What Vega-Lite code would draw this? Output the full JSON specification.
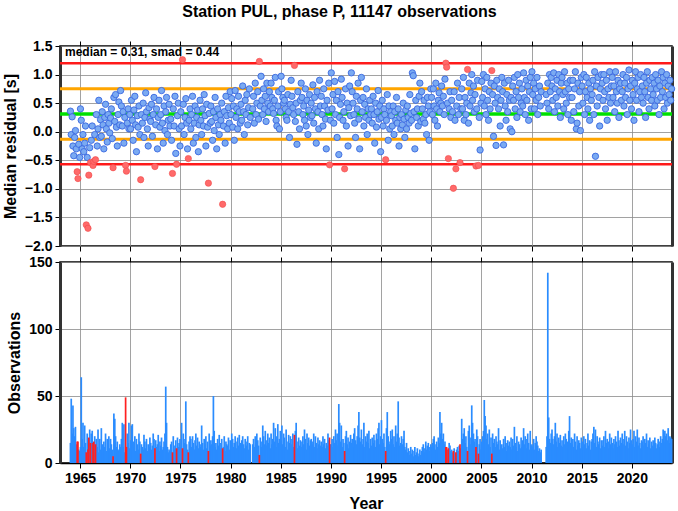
{
"$schema": "https://vega.github.io/schema/vega-lite/v6.json",
"padding": {"left": 1, "top": 4, "right": 4, "bottom": 0},
"title": {"text": "Station PUL, phase P, 11147 observations", "font": "Liberation Sans", "fontSize": 16, "fontWeight": "bold", "color": "#000", "anchor": "middle", "offset": 18},
"config": {
 "view": {"stroke": "#000", "strokeWidth": 1.5},
 "font": "Liberation Sans",
 "axis": {"labelFont": "Liberation Sans", "labelFontWeight": "bold", "labelFontSize": 14, "labelColor": "#000", "titleFont": "Liberation Sans", "titleFontWeight": "bold", "titleFontSize": 16, "titleColor": "#000", "tickColor": "#000", "tickSize": 5, "tickWidth": 1, "labelPadding": 3, "domainColor": "#000", "domainWidth": 1.5, "gridColor": "#8a8a8a", "gridWidth": 0.8}
},
"datasets": {"obs": [
{"t":1964.04,"r":0.36,"n":15},{"t":1964.12,"r":-0.05,"n":48},{"t":1964.21,"r":0.26,"n":22},{"t":1964.29,"r":-0.25,"n":43},{"t":1964.37,"r":-0.42,"n":26},{"t":1964.46,"r":-0.1,"n":20},{"t":1964.54,"r":0.02,"n":27},{"t":1964.62,"r":-0.3,"n":14},{"t":1964.71,"r":-0.7,"n":16,"f":1},{"t":1964.79,"r":-0.82,"n":16,"f":1},{"t":1964.87,"r":-0.22,"n":10},{"t":1964.96,"r":-0.45,"n":9},
{"t":1965.04,"r":0.4,"n":12},{"t":1965.12,"r":0.2,"n":64},{"t":1965.21,"r":-0.3,"n":18},{"t":1965.29,"r":-0.05,"n":30},{"t":1965.37,"r":-0.35,"n":12},{"t":1965.46,"r":-0.2,"n":28},{"t":1965.54,"r":0.1,"n":15},{"t":1965.62,"r":-1.63,"n":8,"f":1},{"t":1965.71,"r":-0.45,"n":22},{"t":1965.79,"r":-1.69,"n":10,"f":1},{"t":1965.87,"r":-0.76,"n":19,"f":1},{"t":1965.96,"r":-0.28,"n":25},
{"t":1966.04,"r":-0.54,"n":15,"f":1},{"t":1966.12,"r":-0.15,"n":22},{"t":1966.21,"r":0.1,"n":24},{"t":1966.29,"r":-0.59,"n":15,"f":1},{"t":1966.37,"r":-0.52,"n":16,"f":1},{"t":1966.46,"r":-0.05,"n":20},{"t":1966.54,"r":-0.49,"n":14,"f":1},{"t":1966.62,"r":0.3,"n":18},{"t":1966.71,"r":-0.25,"n":12},{"t":1966.79,"r":0.05,"n":25},{"t":1966.87,"r":0.55,"n":8},{"t":1966.96,"r":-0.1,"n":18},
{"t":1967.04,"r":0.21,"n":10},{"t":1967.12,"r":-0.08,"n":26},{"t":1967.21,"r":0.35,"n":14},{"t":1967.29,"r":0.12,"n":8},{"t":1967.37,"r":-0.3,"n":16},{"t":1967.46,"r":0.25,"n":12},{"t":1967.54,"r":0.48,"n":22},{"t":1967.62,"r":0.05,"n":9},{"t":1967.71,"r":-0.18,"n":18},{"t":1967.79,"r":0.3,"n":15},{"t":1967.87,"r":0.15,"n":20},{"t":1967.96,"r":-0.02,"n":11},
{"t":1968.04,"r":0.24,"n":18},{"t":1968.12,"r":0.4,"n":14},{"t":1968.21,"r":-0.12,"n":10},{"t":1968.29,"r":-0.63,"n":5,"f":1},{"t":1968.37,"r":0.6,"n":37},{"t":1968.46,"r":0.18,"n":33},{"t":1968.54,"r":0.65,"n":20},{"t":1968.62,"r":0.08,"n":12},{"t":1968.71,"r":-0.25,"n":16},{"t":1968.79,"r":0.3,"n":10},{"t":1968.87,"r":0.52,"n":9},{"t":1968.96,"r":0.12,"n":14},
{"t":1969.04,"r":0.72,"n":12},{"t":1969.12,"r":0.45,"n":18},{"t":1969.21,"r":0.1,"n":30},{"t":1969.29,"r":0.35,"n":12},{"t":1969.37,"r":-0.2,"n":29},{"t":1969.46,"r":0.25,"n":8},{"t":1969.54,"r":-0.59,"n":49,"f":1},{"t":1969.62,"r":-0.69,"n":12,"f":1},{"t":1969.71,"r":0.15,"n":22},{"t":1969.79,"r":0.4,"n":15},{"t":1969.87,"r":0.05,"n":30},{"t":1969.96,"r":0.3,"n":11},
{"t":1970.04,"r":0.05,"n":17},{"t":1970.12,"r":0.55,"n":28},{"t":1970.21,"r":0.2,"n":29},{"t":1970.29,"r":-0.15,"n":16},{"t":1970.37,"r":0.38,"n":12},{"t":1970.46,"r":0.62,"n":20},{"t":1970.54,"r":0.12,"n":9},{"t":1970.62,"r":-0.35,"n":18},{"t":1970.71,"r":0.28,"n":14},{"t":1970.79,"r":0.08,"n":10},{"t":1970.87,"r":0.45,"n":22},{"t":1970.96,"r":-0.05,"n":16},
{"t":1971.04,"r":-0.84,"n":7,"f":1},{"t":1971.12,"r":0.3,"n":14},{"t":1971.21,"r":0.15,"n":12},{"t":1971.29,"r":0.5,"n":10},{"t":1971.37,"r":-0.1,"n":21},{"t":1971.46,"r":0.25,"n":16},{"t":1971.54,"r":0.68,"n":11},{"t":1971.62,"r":0.35,"n":18},{"t":1971.71,"r":0.05,"n":9},{"t":1971.79,"r":-0.25,"n":14},{"t":1971.87,"r":0.42,"n":12},{"t":1971.96,"r":0.22,"n":19},
{"t":1972.04,"r":0.18,"n":15},{"t":1972.12,"r":0.48,"n":10},{"t":1972.21,"r":-0.08,"n":13},{"t":1972.29,"r":0.3,"n":22},{"t":1972.37,"r":0.6,"n":18},{"t":1972.46,"r":-0.61,"n":11,"f":1},{"t":1972.54,"r":0.12,"n":17},{"t":1972.62,"r":0.4,"n":12},{"t":1972.71,"r":-0.3,"n":14},{"t":1972.79,"r":0.25,"n":21},{"t":1972.87,"r":0.55,"n":9},{"t":1972.96,"r":0.08,"n":16},
{"t":1973.04,"r":0.3,"n":13},{"t":1973.12,"r":0.72,"n":19},{"t":1973.21,"r":0.15,"n":10},{"t":1973.29,"r":-0.2,"n":12},{"t":1973.37,"r":0.45,"n":16},{"t":1973.46,"r":0.02,"n":22},{"t":1973.54,"r":0.35,"n":57},{"t":1973.62,"r":0.6,"n":30},{"t":1973.71,"r":-0.05,"n":12},{"t":1973.79,"r":0.2,"n":8},{"t":1973.87,"r":0.48,"n":10},{"t":1973.96,"r":0.1,"n":9},
{"t":1974.04,"r":0.22,"n":14},{"t":1974.12,"r":-0.15,"n":16},{"t":1974.21,"r":-0.73,"n":8,"f":1},{"t":1974.29,"r":0.4,"n":20},{"t":1974.37,"r":0.1,"n":13},{"t":1974.46,"r":0.62,"n":10},{"t":1974.54,"r":-0.38,"n":17},{"t":1974.62,"r":-0.57,"n":11,"f":1},{"t":1974.71,"r":0.28,"n":19},{"t":1974.79,"r":0.5,"n":12},{"t":1974.87,"r":0.05,"n":15},{"t":1974.96,"r":-0.25,"n":18},
{"t":1975.04,"r":0.35,"n":12},{"t":1975.12,"r":0.1,"n":30},{"t":1975.21,"r":1.26,"n":11,"f":1},{"t":1975.29,"r":0.48,"n":22},{"t":1975.37,"r":-0.05,"n":15},{"t":1975.46,"r":0.25,"n":18},{"t":1975.54,"r":0.58,"n":46},{"t":1975.62,"r":0.15,"n":14},{"t":1975.71,"r":-0.3,"n":10},{"t":1975.79,"r":-0.47,"n":8,"f":1},{"t":1975.87,"r":0.2,"n":16},{"t":1975.96,"r":0.4,"n":20},
{"t":1976.04,"r":0.05,"n":18},{"t":1976.12,"r":0.3,"n":12},{"t":1976.21,"r":0.62,"n":20},{"t":1976.29,"r":-0.2,"n":15},{"t":1976.37,"r":0.15,"n":10},{"t":1976.46,"r":0.45,"n":17},{"t":1976.54,"r":-0.1,"n":22},{"t":1976.62,"r":0.25,"n":13},{"t":1976.71,"r":0.38,"n":19},{"t":1976.79,"r":-0.35,"n":11},{"t":1976.87,"r":0.12,"n":16},{"t":1976.96,"r":0.55,"n":14},
{"t":1977.04,"r":0.2,"n":12},{"t":1977.12,"r":-0.05,"n":28},{"t":1977.21,"r":0.4,"n":15},{"t":1977.29,"r":0.1,"n":10},{"t":1977.37,"r":0.65,"n":18},{"t":1977.46,"r":0.28,"n":14},{"t":1977.54,"r":-0.25,"n":20},{"t":1977.62,"r":0.48,"n":11},{"t":1977.71,"r":0.08,"n":16},{"t":1977.79,"r":-0.9,"n":9,"f":1},{"t":1977.87,"r":0.32,"n":22},{"t":1977.96,"r":0.15,"n":13},
{"t":1978.04,"r":0.45,"n":17},{"t":1978.12,"r":0.18,"n":14},{"t":1978.21,"r":-0.15,"n":20},{"t":1978.29,"r":0.35,"n":50},{"t":1978.37,"r":0.02,"n":24},{"t":1978.46,"r":0.6,"n":12},{"t":1978.54,"r":0.25,"n":15},{"t":1978.62,"r":-0.3,"n":10},{"t":1978.71,"r":0.4,"n":18},{"t":1978.79,"r":0.12,"n":13},{"t":1978.87,"r":-0.05,"n":21},{"t":1978.96,"r":0.3,"n":11},
{"t":1979.04,"r":0.2,"n":15},{"t":1979.12,"r":0.5,"n":18},{"t":1979.21,"r":-1.27,"n":11,"f":1},{"t":1979.29,"r":0.1,"n":12},{"t":1979.37,"r":0.35,"n":20},{"t":1979.46,"r":-0.2,"n":9},{"t":1979.54,"r":0.62,"n":16},{"t":1979.62,"r":0.28,"n":14},{"t":1979.71,"r":0.05,"n":13},{"t":1979.79,"r":0.42,"n":19},{"t":1979.87,"r":0.15,"n":10},{"t":1979.96,"r":0.7,"n":17},
{"t":1980.04,"r":0.3,"n":14},{"t":1980.12,"r":0.58,"n":22},{"t":1980.21,"r":0.08,"n":18},{"t":1980.29,"r":0.45,"n":12},{"t":1980.37,"r":-0.15,"n":15},{"t":1980.46,"r":0.72,"n":20},{"t":1980.54,"r":0.25,"n":16},{"t":1980.62,"r":0.4,"n":11},{"t":1980.71,"r":0.05,"n":19},{"t":1980.79,"r":0.62,"n":13},{"t":1980.87,"r":0.35,"n":21},{"t":1980.96,"r":0.15,"n":15},
{"t":1981.04,"r":0.48,"n":12},{"t":1981.12,"r":0.2,"n":17},{"t":1981.21,"r":0.8,"n":20},{"t":1981.29,"r":0.35,"n":14},{"t":1981.37,"r":-0.05,"n":11},{"t":1981.46,"r":0.55,"n":18},{"t":1981.54,"r":0.3,"n":16},{"t":1981.62,"r":0.65,"n":13},{"t":1981.71,"r":0.12,"n":20},{"t":1981.79,"r":0.42,"n":10},{"t":1981.87,"r":0.75,"n":15},{"t":1981.96,"r":0.25,"n":14},
{"t":1982.21,"r":0.4,"n":14},{"t":1982.29,"r":0.62,"n":18},{"t":1982.37,"r":0.15,"n":12},{"t":1982.46,"r":0.85,"n":20},{"t":1982.54,"r":0.3,"n":15},{"t":1982.62,"r":0.5,"n":22},{"t":1982.71,"r":0.7,"n":17},{"t":1982.79,"r":0.22,"n":13},{"t":1982.87,"r":1.23,"n":6,"f":1},{"t":1982.96,"r":0.45,"n":19},
{"t":1983.04,"r":0.97,"n":16},{"t":1983.12,"r":0.55,"n":12},{"t":1983.21,"r":0.3,"n":28},{"t":1983.29,"r":0.75,"n":20},{"t":1983.37,"r":0.4,"n":14},{"t":1983.46,"r":0.62,"n":24},{"t":1983.54,"r":0.18,"n":17},{"t":1983.62,"r":0.85,"n":13},{"t":1983.71,"r":0.5,"n":22},{"t":1983.79,"r":0.35,"n":15},{"t":1983.87,"r":0.7,"n":19},{"t":1983.96,"r":0.45,"n":11},
{"t":1984.04,"r":0.85,"n":22},{"t":1984.12,"r":0.6,"n":14},{"t":1984.21,"r":0.4,"n":18},{"t":1984.29,"r":0.32,"n":30},{"t":1984.37,"r":0.55,"n":16},{"t":1984.46,"r":0.95,"n":26},{"t":1984.54,"r":0.2,"n":12},{"t":1984.62,"r":0.1,"n":20},{"t":1984.71,"r":0.45,"n":29},{"t":1984.79,"r":0.7,"n":15},{"t":1984.87,"r":0.05,"n":18},{"t":1984.96,"r":0.35,"n":24},
{"t":1985.04,"r":0.97,"n":17},{"t":1985.12,"r":0.75,"n":28},{"t":1985.21,"r":0.6,"n":14},{"t":1985.29,"r":0.5,"n":22},{"t":1985.37,"r":0.55,"n":19},{"t":1985.46,"r":0.4,"n":12},{"t":1985.54,"r":0.25,"n":25},{"t":1985.62,"r":0.2,"n":16},{"t":1985.71,"r":0.65,"n":10},{"t":1985.79,"r":0.35,"n":21},{"t":1985.87,"r":-0.1,"n":15},{"t":1985.96,"r":0.48,"n":20},
{"t":1986.04,"r":0.9,"n":14},{"t":1986.12,"r":0.62,"n":18},{"t":1986.21,"r":0.42,"n":22},{"t":1986.29,"r":0.3,"n":12},{"t":1986.37,"r":1.16,"n":21,"f":1},{"t":1986.46,"r":0.18,"n":24},{"t":1986.54,"r":0.5,"n":30},{"t":1986.62,"r":-0.22,"n":16},{"t":1986.71,"r":0.7,"n":11},{"t":1986.79,"r":0.35,"n":19},{"t":1986.87,"r":0.05,"n":13},{"t":1986.96,"r":0.55,"n":17},
{"t":1987.04,"r":0.85,"n":12},{"t":1987.12,"r":0.6,"n":16},{"t":1987.21,"r":0.3,"n":20},{"t":1987.29,"r":0.45,"n":14},{"t":1987.37,"r":0.2,"n":25},{"t":1987.46,"r":0.75,"n":18},{"t":1987.54,"r":0.1,"n":10},{"t":1987.62,"r":0.55,"n":22},{"t":1987.71,"r":-0.05,"n":15},{"t":1987.79,"r":0.38,"n":19},{"t":1987.87,"r":0.65,"n":13},{"t":1987.96,"r":0.25,"n":17},
{"t":1988.04,"r":0.5,"n":18},{"t":1988.12,"r":0.28,"n":14},{"t":1988.21,"r":0.82,"n":16},{"t":1988.29,"r":0.15,"n":22},{"t":1988.37,"r":0.6,"n":12},{"t":1988.46,"r":0.4,"n":20},{"t":1988.54,"r":-0.2,"n":15},{"t":1988.62,"r":0.7,"n":11},{"t":1988.71,"r":0.35,"n":19},{"t":1988.79,"r":0.05,"n":14},{"t":1988.87,"r":0.9,"n":17},{"t":1988.96,"r":0.45,"n":13},
{"t":1989.04,"r":0.62,"n":16},{"t":1989.12,"r":0.3,"n":12},{"t":1989.21,"r":0.1,"n":20},{"t":1989.29,"r":0.75,"n":14},{"t":1989.37,"r":0.45,"n":18},{"t":1989.46,"r":0.22,"n":11},{"t":1989.54,"r":-0.3,"n":15},{"t":1989.62,"r":0.55,"n":13},{"t":1989.71,"r":0.38,"n":22},{"t":1989.79,"r":0.85,"n":17},{"t":1989.87,"r":-0.58,"n":19,"f":1},{"t":1989.96,"r":0.2,"n":14},
{"t":1990.04,"r":1.03,"n":14},{"t":1990.12,"r":0.4,"n":18},{"t":1990.21,"r":0.65,"n":12},{"t":1990.29,"r":0.15,"n":20},{"t":1990.37,"r":0.88,"n":15},{"t":1990.46,"r":0.3,"n":25},{"t":1990.54,"r":0.55,"n":17},{"t":1990.62,"r":-0.1,"n":22},{"t":1990.71,"r":0.7,"n":13},{"t":1990.79,"r":-0.4,"n":44},{"t":1990.87,"r":0.25,"n":30},{"t":1990.96,"r":0.48,"n":16},
{"t":1991.04,"r":0.92,"n":28},{"t":1991.12,"r":0.6,"n":12},{"t":1991.21,"r":0.2,"n":18},{"t":1991.29,"r":0.35,"n":15},{"t":1991.37,"r":-0.65,"n":9,"f":1},{"t":1991.46,"r":0.75,"n":20},{"t":1991.54,"r":0.1,"n":24},{"t":1991.62,"r":0.5,"n":14},{"t":1991.71,"r":-0.25,"n":19},{"t":1991.79,"r":0.42,"n":11},{"t":1991.87,"r":0.8,"n":16},{"t":1991.96,"r":0.28,"n":21},
{"t":1992.04,"r":1.03,"n":15},{"t":1992.12,"r":0.7,"n":18},{"t":1992.21,"r":0.5,"n":12},{"t":1992.29,"r":0.3,"n":22},{"t":1992.37,"r":0.15,"n":26},{"t":1992.46,"r":-0.1,"n":17},{"t":1992.54,"r":0.62,"n":14},{"t":1992.62,"r":0.4,"n":20},{"t":1992.71,"r":0.85,"n":28},{"t":1992.79,"r":0.22,"n":38},{"t":1992.87,"r":-0.3,"n":19},{"t":1992.96,"r":0.55,"n":16},
{"t":1993.04,"r":0.95,"n":25},{"t":1993.12,"r":0.35,"n":14},{"t":1993.21,"r":0.6,"n":18},{"t":1993.29,"r":0.1,"n":30},{"t":1993.37,"r":0.48,"n":12},{"t":1993.46,"r":0.25,"n":20},{"t":1993.54,"r":0.75,"n":16},{"t":1993.62,"r":-0.05,"n":22},{"t":1993.71,"r":0.4,"n":15},{"t":1993.79,"r":0.2,"n":24},{"t":1993.87,"r":0.55,"n":11},{"t":1993.96,"r":0.3,"n":18},
{"t":1994.04,"r":0.4,"n":13},{"t":1994.12,"r":0.15,"n":19},{"t":1994.21,"r":0.62,"n":15},{"t":1994.29,"r":0.3,"n":21},{"t":1994.37,"r":-0.2,"n":17},{"t":1994.46,"r":0.5,"n":12},{"t":1994.54,"r":0.08,"n":22},{"t":1994.62,"r":0.35,"n":18},{"t":1994.71,"r":0.72,"n":26},{"t":1994.79,"r":0.22,"n":30},{"t":1994.87,"r":0.45,"n":14},{"t":1994.96,"r":-0.35,"n":20},
{"t":1995.04,"r":0.25,"n":32},{"t":1995.12,"r":0.55,"n":18},{"t":1995.21,"r":0.1,"n":15},{"t":1995.29,"r":0.4,"n":22},{"t":1995.37,"r":0.3,"n":12},{"t":1995.46,"r":-0.49,"n":9,"f":1},{"t":1995.54,"r":0.2,"n":26},{"t":1995.62,"r":0.65,"n":38},{"t":1995.71,"r":-0.15,"n":20},{"t":1995.79,"r":0.45,"n":16},{"t":1995.87,"r":0.05,"n":14},{"t":1995.96,"r":0.35,"n":24},
{"t":1996.04,"r":0.28,"n":18},{"t":1996.12,"r":0.1,"n":25},{"t":1996.21,"r":0.45,"n":14},{"t":1996.29,"r":-0.05,"n":20},{"t":1996.37,"r":0.35,"n":12},{"t":1996.46,"r":0.2,"n":28},{"t":1996.54,"r":0.6,"n":16},{"t":1996.62,"r":0.15,"n":22},{"t":1996.71,"r":0.4,"n":46},{"t":1996.79,"r":-0.25,"n":19},{"t":1996.87,"r":0.25,"n":13},{"t":1996.96,"r":0.05,"n":15},
{"t":1997.04,"r":0.3,"n":20},{"t":1997.12,"r":0.12,"n":14},{"t":1997.21,"r":0.5,"n":18},{"t":1997.29,"r":0.22,"n":24},{"t":1997.37,"r":-0.1,"n":12},{"t":1997.46,"r":0.38,"n":10},{"t":1997.54,"r":0.05,"n":15},{"t":1997.62,"r":0.45,"n":8},{"t":1997.71,"r":0.25,"n":11},{"t":1997.79,"r":0.15,"n":9},{"t":1997.87,"r":0.65,"n":6},{"t":1997.96,"r":0.32,"n":12},
{"t":1998.04,"r":0.2,"n":7},{"t":1998.12,"r":1.03,"n":10},{"t":1998.21,"r":0.98,"n":5},{"t":1998.29,"r":0.35,"n":9},{"t":1998.37,"r":-0.3,"n":12},{"t":1998.46,"r":0.55,"n":6},{"t":1998.54,"r":0.25,"n":8},{"t":1998.62,"r":0.4,"n":11},{"t":1998.71,"r":0.1,"n":5},{"t":1998.79,"r":0.62,"n":7},{"t":1998.87,"r":0.85,"n":10},{"t":1998.96,"r":0.18,"n":6},
{"t":1999.04,"r":0.7,"n":9},{"t":1999.12,"r":0.4,"n":12},{"t":1999.21,"r":0.22,"n":14},{"t":1999.29,"r":0.55,"n":8},{"t":1999.37,"r":0.15,"n":11},{"t":1999.46,"r":0.3,"n":16},{"t":1999.54,"r":-0.05,"n":10},{"t":1999.62,"r":0.6,"n":13},{"t":1999.71,"r":0.45,"n":15},{"t":1999.79,"r":-0.15,"n":9},{"t":1999.87,"r":0.35,"n":12},{"t":1999.96,"r":0.75,"n":14},
{"t":2000.04,"r":0.6,"n":12},{"t":2000.12,"r":0.3,"n":15},{"t":2000.21,"r":0.75,"n":18},{"t":2000.29,"r":0.45,"n":20},{"t":2000.37,"r":0.2,"n":14},{"t":2000.46,"r":0.85,"n":10},{"t":2000.54,"r":0.4,"n":16},{"t":2000.62,"r":0.1,"n":12},{"t":2000.71,"r":0.55,"n":19},{"t":2000.79,"r":0.68,"n":15},{"t":2000.87,"r":0.35,"n":38},{"t":2000.96,"r":0.5,"n":22},
{"t":2001.04,"r":0.8,"n":30},{"t":2001.12,"r":0.45,"n":18},{"t":2001.21,"r":0.62,"n":22},{"t":2001.29,"r":0.3,"n":14},{"t":2001.37,"r":0.92,"n":16},{"t":2001.46,"r":1.2,"n":12,"f":1},{"t":2001.54,"r":1.13,"n":12,"f":1},{"t":2001.62,"r":0.5,"n":10},{"t":2001.71,"r":-0.47,"n":11,"f":1},{"t":2001.79,"r":0.4,"n":15},{"t":2001.87,"r":0.7,"n":13},{"t":2001.96,"r":0.25,"n":9},
{"t":2002.04,"r":0.55,"n":10},{"t":2002.12,"r":0.35,"n":8},{"t":2002.21,"r":-0.99,"n":9,"f":1},{"t":2002.29,"r":0.7,"n":11},{"t":2002.37,"r":0.2,"n":7},{"t":2002.46,"r":-0.65,"n":8,"f":1},{"t":2002.54,"r":0.45,"n":10},{"t":2002.62,"r":0.85,"n":12},{"t":2002.71,"r":0.3,"n":9},{"t":2002.79,"r":0.6,"n":13},{"t":2002.87,"r":-0.54,"n":14,"f":1},{"t":2002.96,"r":0.4,"n":11},
{"t":2003.04,"r":0.75,"n":33},{"t":2003.12,"r":0.4,"n":18},{"t":2003.21,"r":0.95,"n":22},{"t":2003.29,"r":0.2,"n":26},{"t":2003.37,"r":0.6,"n":15},{"t":2003.46,"r":0.3,"n":20},{"t":2003.54,"r":0.5,"n":12},{"t":2003.62,"r":1.09,"n":9,"f":1},{"t":2003.71,"r":0.15,"n":24},{"t":2003.79,"r":0.85,"n":28},{"t":2003.87,"r":0.45,"n":14},{"t":2003.96,"r":0.68,"n":19},
{"t":2004.04,"r":1.0,"n":43},{"t":2004.12,"r":0.55,"n":30},{"t":2004.21,"r":0.8,"n":22},{"t":2004.29,"r":0.35,"n":16},{"t":2004.37,"r":0.65,"n":18},{"t":2004.46,"r":-0.6,"n":12,"f":1},{"t":2004.54,"r":0.4,"n":25},{"t":2004.62,"r":0.9,"n":20},{"t":2004.71,"r":-0.59,"n":7,"f":1},{"t":2004.79,"r":0.25,"n":14},{"t":2004.87,"r":-0.32,"n":18},{"t":2004.96,"r":0.5,"n":10},
{"t":2005.04,"r":0.88,"n":16},{"t":2005.12,"r":0.6,"n":20},{"t":2005.21,"r":1.0,"n":24},{"t":2005.29,"r":0.45,"n":47},{"t":2005.37,"r":0.75,"n":35},{"t":2005.46,"r":0.3,"n":28},{"t":2005.54,"r":0.95,"n":18},{"t":2005.62,"r":0.55,"n":22},{"t":2005.71,"r":0.2,"n":14},{"t":2005.79,"r":0.7,"n":25},{"t":2005.87,"r":0.4,"n":12},{"t":2005.96,"r":0.85,"n":19},
{"t":2006.04,"r":1.07,"n":7,"f":1},{"t":2006.12,"r":0.65,"n":22},{"t":2006.21,"r":-0.08,"n":15},{"t":2006.29,"r":0.8,"n":18},{"t":2006.37,"r":0.5,"n":12},{"t":2006.46,"r":-0.24,"n":20},{"t":2006.54,"r":0.9,"n":16},{"t":2006.62,"r":0.6,"n":14},{"t":2006.71,"r":0.4,"n":26},{"t":2006.79,"r":0.75,"n":10},{"t":2006.87,"r":0.1,"n":17},{"t":2006.96,"r":0.55,"n":13},
{"t":2007.04,"r":0.95,"n":14},{"t":2007.12,"r":0.7,"n":11},{"t":2007.21,"r":-0.23,"n":18},{"t":2007.29,"r":0.85,"n":12},{"t":2007.37,"r":0.45,"n":20},{"t":2007.46,"r":0.2,"n":15},{"t":2007.54,"r":0.65,"n":9},{"t":2007.62,"r":0.35,"n":17},{"t":2007.71,"r":0.9,"n":13},{"t":2007.79,"r":0.55,"n":16},{"t":2007.87,"r":0.05,"n":12},{"t":2007.96,"r":0.6,"n":19},
{"t":2008.04,"r":0.0,"n":10},{"t":2008.12,"r":0.8,"n":18},{"t":2008.21,"r":0.55,"n":13},{"t":2008.29,"r":0.95,"n":27},{"t":2008.37,"r":0.4,"n":15},{"t":2008.46,"r":0.7,"n":12},{"t":2008.54,"r":0.25,"n":20},{"t":2008.62,"r":1.0,"n":9},{"t":2008.71,"r":0.6,"n":16},{"t":2008.79,"r":0.85,"n":14},{"t":2008.87,"r":0.35,"n":11},{"t":2008.96,"r":0.5,"n":19},
{"t":2009.04,"r":0.75,"n":12},{"t":2009.12,"r":0.45,"n":17},{"t":2009.21,"r":1.03,"n":26},{"t":2009.29,"r":0.6,"n":14},{"t":2009.37,"r":0.3,"n":20},{"t":2009.46,"r":0.9,"n":11},{"t":2009.54,"r":0.55,"n":18},{"t":2009.62,"r":0.8,"n":22},{"t":2009.71,"r":0.2,"n":15},{"t":2009.79,"r":0.7,"n":10},{"t":2009.87,"r":0.95,"n":24},{"t":2009.96,"r":0.4,"n":13},
{"t":2010.04,"r":1.05,"n":14},{"t":2010.12,"r":0.65,"n":12},{"t":2010.21,"r":0.85,"n":18},{"t":2010.29,"r":0.4,"n":10},{"t":2010.37,"r":0.75,"n":15},{"t":2010.46,"r":0.55,"n":20},{"t":2010.54,"r":0.95,"n":16},{"t":2010.62,"r":0.3,"n":13},{"t":2010.71,"r":0.6,"n":9},{"t":2010.79,"r":0.8,"n":11},{"t":2010.87,"r":0.45,"n":8},{"t":2010.96,"r":0.7,"n":10},
{"t":2011.46,"r":0.65,"n":12},{"t":2011.54,"r":0.5,"n":20},{"t":2011.62,"r":0.85,"n":142},{"t":2011.71,"r":0.4,"n":34},{"t":2011.79,"r":1.0,"n":18},{"t":2011.87,"r":0.7,"n":15},{"t":2011.96,"r":0.95,"n":22},
{"t":2012.04,"r":0.8,"n":25},{"t":2012.12,"r":0.55,"n":18},{"t":2012.21,"r":1.03,"n":14},{"t":2012.29,"r":0.35,"n":20},{"t":2012.37,"r":0.75,"n":30},{"t":2012.46,"r":0.6,"n":16},{"t":2012.54,"r":0.9,"n":22},{"t":2012.62,"r":0.45,"n":12},{"t":2012.71,"r":1.0,"n":19},{"t":2012.79,"r":0.7,"n":15},{"t":2012.87,"r":0.25,"n":21},{"t":2012.96,"r":0.85,"n":13},
{"t":2013.04,"r":0.95,"n":17},{"t":2013.12,"r":0.65,"n":12},{"t":2013.21,"r":0.4,"n":20},{"t":2013.29,"r":1.05,"n":14},{"t":2013.37,"r":0.7,"n":22},{"t":2013.46,"r":0.5,"n":18},{"t":2013.54,"r":0.85,"n":11},{"t":2013.62,"r":0.3,"n":16},{"t":2013.71,"r":0.75,"n":24},{"t":2013.79,"r":0.6,"n":35},{"t":2013.87,"r":0.9,"n":15},{"t":2013.96,"r":0.2,"n":19},
{"t":2014.04,"r":0.6,"n":14},{"t":2014.12,"r":0.9,"n":18},{"t":2014.21,"r":0.35,"n":12},{"t":2014.29,"r":0.75,"n":22},{"t":2014.37,"r":1.05,"n":16},{"t":2014.46,"r":0.05,"n":10},{"t":2014.54,"r":0.15,"n":20},{"t":2014.62,"r":0.85,"n":13},{"t":2014.71,"r":0.45,"n":17},{"t":2014.79,"r":0.7,"n":15},{"t":2014.87,"r":0.02,"n":11},{"t":2014.96,"r":0.95,"n":19},
{"t":2015.04,"r":0.8,"n":16},{"t":2015.12,"r":0.5,"n":12},{"t":2015.21,"r":1.0,"n":20},{"t":2015.29,"r":0.3,"n":14},{"t":2015.37,"r":0.7,"n":18},{"t":2015.46,"r":0.95,"n":11},{"t":2015.54,"r":0.6,"n":15},{"t":2015.62,"r":0.4,"n":22},{"t":2015.71,"r":0.85,"n":13},{"t":2015.79,"r":0.2,"n":17},{"t":2015.87,"r":0.75,"n":10},{"t":2015.96,"r":0.55,"n":16},
{"t":2016.04,"r":0.65,"n":18},{"t":2016.12,"r":0.9,"n":22},{"t":2016.21,"r":0.3,"n":27},{"t":2016.29,"r":1.05,"n":15},{"t":2016.37,"r":-0.43,"n":25},{"t":2016.46,"r":0.8,"n":12},{"t":2016.54,"r":0.45,"n":20},{"t":2016.62,"r":0.95,"n":16},{"t":2016.71,"r":0.6,"n":14},{"t":2016.79,"r":0.1,"n":19},{"t":2016.87,"r":0.75,"n":11},{"t":2016.96,"r":1.0,"n":17},
{"t":2017.04,"r":0.85,"n":13},{"t":2017.12,"r":0.55,"n":17},{"t":2017.21,"r":1.0,"n":20},{"t":2017.29,"r":0.7,"n":12},{"t":2017.37,"r":0.4,"n":24},{"t":2017.46,"r":0.9,"n":15},{"t":2017.54,"r":0.2,"n":18},{"t":2017.62,"r":0.75,"n":11},{"t":2017.71,"r":0.6,"n":16},{"t":2017.79,"r":1.05,"n":22},{"t":2017.87,"r":0.5,"n":14},{"t":2017.96,"r":0.8,"n":19},
{"t":2018.04,"r":0.95,"n":15},{"t":2018.12,"r":0.6,"n":11},{"t":2018.21,"r":0.8,"n":18},{"t":2018.29,"r":0.35,"n":14},{"t":2018.37,"r":1.05,"n":20},{"t":2018.46,"r":0.7,"n":16},{"t":2018.54,"r":0.5,"n":12},{"t":2018.62,"r":0.9,"n":24},{"t":2018.71,"r":0.25,"n":17},{"t":2018.79,"r":0.75,"n":13},{"t":2018.87,"r":0.85,"n":19},{"t":2018.96,"r":0.55,"n":15},
{"t":2019.04,"r":0.7,"n":22},{"t":2019.12,"r":1.0,"n":14},{"t":2019.21,"r":0.45,"n":18},{"t":2019.29,"r":0.85,"n":24},{"t":2019.37,"r":0.6,"n":13},{"t":2019.46,"r":0.95,"n":20},{"t":2019.54,"r":0.3,"n":16},{"t":2019.62,"r":0.75,"n":11},{"t":2019.71,"r":1.08,"n":19},{"t":2019.79,"r":0.55,"n":15},{"t":2019.87,"r":0.8,"n":25},{"t":2019.96,"r":0.4,"n":17},
{"t":2020.04,"r":0.9,"n":14},{"t":2020.12,"r":0.65,"n":18},{"t":2020.21,"r":0.2,"n":24},{"t":2020.29,"r":0.85,"n":12},{"t":2020.37,"r":1.05,"n":20},{"t":2020.46,"r":0.55,"n":16},{"t":2020.54,"r":0.75,"n":25},{"t":2020.62,"r":0.95,"n":13},{"t":2020.71,"r":0.35,"n":19},{"t":2020.79,"r":0.7,"n":15},{"t":2020.87,"r":1.0,"n":11},{"t":2020.96,"r":0.6,"n":17},
{"t":2021.04,"r":0.8,"n":16},{"t":2021.12,"r":0.5,"n":20},{"t":2021.21,"r":0.95,"n":13},{"t":2021.29,"r":0.7,"n":18},{"t":2021.37,"r":0.25,"n":15},{"t":2021.46,"r":0.85,"n":22},{"t":2021.54,"r":1.05,"n":12},{"t":2021.62,"r":0.6,"n":17},{"t":2021.71,"r":0.4,"n":14},{"t":2021.79,"r":0.9,"n":19},{"t":2021.87,"r":0.75,"n":11},{"t":2021.96,"r":0.55,"n":16},
{"t":2022.04,"r":0.95,"n":13},{"t":2022.12,"r":0.65,"n":17},{"t":2022.21,"r":0.85,"n":12},{"t":2022.29,"r":0.45,"n":19},{"t":2022.37,"r":1.0,"n":15},{"t":2022.46,"r":0.75,"n":11},{"t":2022.54,"r":0.55,"n":14},{"t":2022.62,"r":0.9,"n":18},{"t":2022.71,"r":0.3,"n":16},{"t":2022.79,"r":0.8,"n":12},{"t":2022.87,"r":0.6,"n":20},{"t":2022.96,"r":1.05,"n":15},
{"t":2023.04,"r":0.7,"n":18},{"t":2023.12,"r":0.95,"n":25},{"t":2023.21,"r":0.4,"n":16},{"t":2023.29,"r":0.85,"n":24},{"t":2023.37,"r":0.6,"n":20},{"t":2023.46,"r":1.0,"n":22},{"t":2023.54,"r":0.5,"n":17},{"t":2023.62,"r":0.8,"n":26},{"t":2023.71,"r":0.65,"n":15},{"t":2023.79,"r":0.9,"n":20},{"t":2023.87,"r":0.55,"n":19},{"t":2023.96,"r":0.75,"n":18}
]},
"bounds": "flush",
"spacing": 16,
"vconcat": [
 {
  "width": 612, "height": 200,
  "layer": [
   {
    "data": {"values": [{"v": 1.2, "k": "limit"}, {"v": -0.57, "k": "limit"}, {"v": 0.75, "k": "smad"}, {"v": -0.13, "k": "smad"}, {"v": 0.31, "k": "median"}]},
    "mark": {"type": "rule"},
    "encoding": {
     "y": {"field": "v", "type": "quantitative", "scale": {"domain": [-2, 1.5], "nice": false, "zero": false}, "axis": null},
     "color": {"field": "k", "type": "nominal", "scale": {"domain": ["median", "smad", "limit"], "range": ["#00e000", "#ffa500", "#ff1a1a"]}, "legend": null},
     "strokeWidth": {"field": "k", "type": "nominal", "scale": {"domain": ["median", "smad", "limit"], "range": [3.5, 2.5, 2.5]}, "legend": null}
    }
   },
   {
    "data": {"name": "obs"},
    "transform": [{"filter": "datum.f != 1"}],
    "mark": {"type": "circle", "size": 40, "fill": "#7aaaf2", "stroke": "#3a68e0", "strokeWidth": 0.9, "opacity": 1},
    "encoding": {
     "x": {"field": "t", "type": "quantitative", "scale": {"domain": [1963, 2024], "nice": false, "zero": false, "padding": 0}, "axis": {"orient": "bottom", "title": null, "labels": false, "values": [1965, 1970, 1975, 1980, 1985, 1990, 1995, 2000, 2005, 2010, 2015, 2020], "grid": true, "domain": false}},
     "y": {"field": "r", "type": "quantitative", "scale": {"domain": [-2, 1.5], "nice": false, "zero": false}, "axis": {"orient": "left", "title": "Median residual [s]", "titlePadding": 6, "values": [-2, -1.5, -1, -0.5, 0, 0.5, 1, 1.5], "format": ".1f", "grid": true, "domainWidth": 3, "domainColor": "#333"}}
    }
   },
   {
    "data": {"name": "obs"},
    "transform": [{"filter": "datum.f == 1"}],
    "mark": {"type": "circle", "size": 40, "fill": "#ff6a6a", "stroke": "#f04848", "strokeWidth": 0.6, "opacity": 1},
    "encoding": {
     "x": {"field": "t", "type": "quantitative", "scale": {"domain": [1963, 2024], "nice": false, "zero": false, "padding": 0}, "axis": {"orient": "top", "title": null, "labels": false, "values": [1965, 1970, 1975, 1980, 1985, 1990, 1995, 2000, 2005, 2010, 2015, 2020], "grid": false, "domain": false}},
     "y": {"field": "r", "type": "quantitative", "scale": {"domain": [-2, 1.5], "nice": false, "zero": false}, "axis": {"orient": "right", "title": null, "labels": false, "ticks": false, "grid": false, "domainWidth": 3, "domainColor": "#333"}}
    }
   },
   {
    "data": {"values": [{}]},
    "mark": {"type": "text", "text": "median = 0.31, smad = 0.44", "font": "Liberation Sans", "fontSize": 12, "fontWeight": "bold", "color": "#000", "align": "left", "baseline": "middle"},
    "encoding": {
     "x": {"datum": 1963.5, "type": "quantitative", "axis": null},
     "y": {"datum": 1.39, "type": "quantitative", "axis": null}
    }
   }
  ]
 },
 {
  "width": 612, "height": 201,
  "data": {"name": "obs"},
  "layer": [
   {
    "transform": [{"filter": "datum.f != 1"}],
    "mark": {"type": "bar", "orient": "vertical", "size": 1.7, "color": "#2a8cff"},
    "encoding": {
     "x": {"field": "t", "type": "quantitative", "scale": {"domain": [1963, 2024], "nice": false, "zero": false, "padding": 0}, "axis": {"orient": "bottom", "title": "Year", "titlePadding": 10, "values": [1965, 1970, 1975, 1980, 1985, 1990, 1995, 2000, 2005, 2010, 2015, 2020], "format": "d", "grid": true}},
     "y": {"field": "n", "type": "quantitative", "stack": null, "scale": {"domain": [0, 150], "nice": false, "padding": 0}, "axis": {"orient": "left", "title": "Observations", "titlePadding": 6, "values": [0, 50, 100, 150], "format": "d", "grid": true, "domainWidth": 3, "domainColor": "#333"}}
    }
   },
   {
    "transform": [{"filter": "datum.f == 1"}],
    "mark": {"type": "bar", "orient": "vertical", "size": 1.7, "color": "#ff2020"},
    "encoding": {
     "x": {"field": "t", "type": "quantitative", "scale": {"domain": [1963, 2024], "nice": false, "zero": false, "padding": 0}, "axis": {"orient": "top", "title": null, "labels": false, "values": [1965, 1970, 1975, 1980, 1985, 1990, 1995, 2000, 2005, 2010, 2015, 2020], "grid": false, "domain": false}},
     "y": {"field": "n", "type": "quantitative", "stack": null, "scale": {"domain": [0, 150], "nice": false, "padding": 0}, "axis": {"orient": "right", "title": null, "labels": false, "ticks": false, "grid": false, "domainWidth": 3, "domainColor": "#333"}}
    }
   }
  ]
 }
]
}
